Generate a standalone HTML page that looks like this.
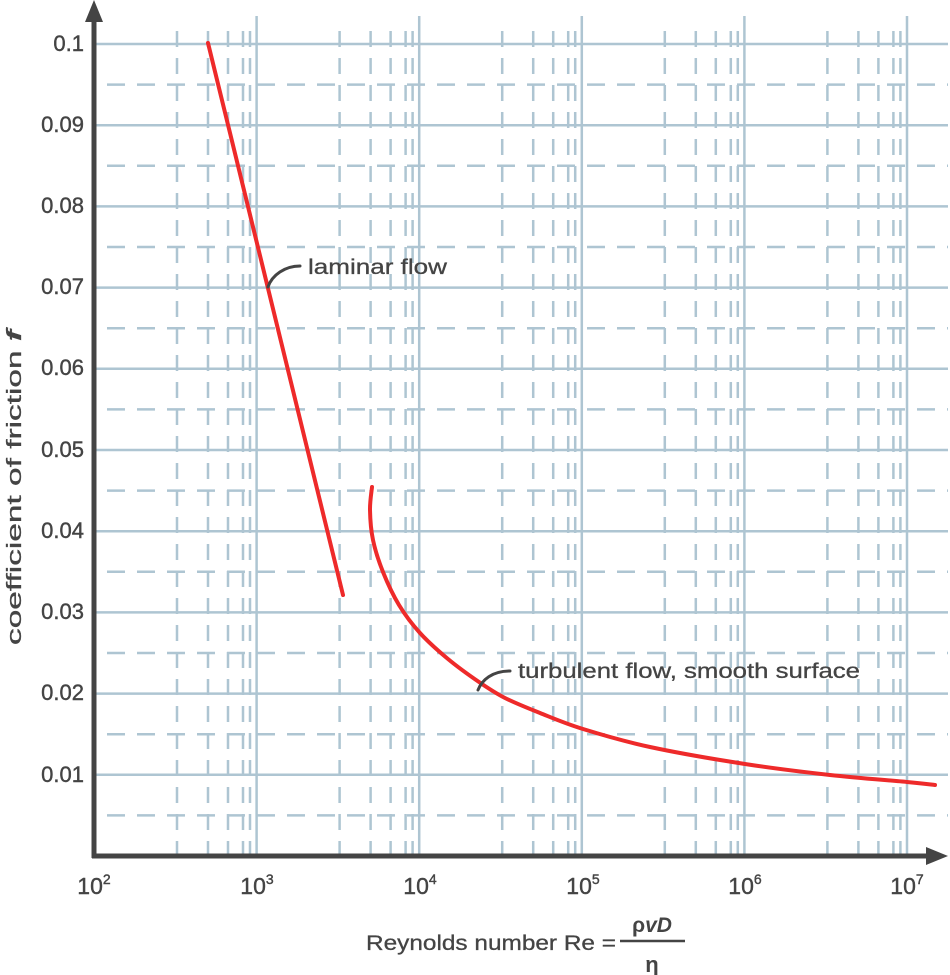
<!DOCTYPE html>
<html><head><meta charset="utf-8"><style>
html,body{margin:0;padding:0;background:#fff;}
svg{display:block;font-family:"Liberation Sans",sans-serif;}
</style></head><body>
<svg id="s" width="950" height="975" viewBox="0 0 950 975" xmlns="http://www.w3.org/2000/svg">
<g id="grid" stroke="#aec5d2" stroke-width="2.5" fill="none"></g>
<g fill="#444" font-size="22" text-anchor="end" stroke="#444" stroke-width="0.4">
<text x="84" y="51">0.1</text>
<text x="84" y="132">0.09</text>
<text x="84" y="213">0.08</text>
<text x="84" y="294">0.07</text>
<text x="84" y="375">0.06</text>
<text x="84" y="457">0.05</text>
<text x="84" y="538">0.04</text>
<text x="84" y="619">0.03</text>
<text x="84" y="700">0.02</text>
<text x="84" y="782">0.01</text>
</g>
<g fill="#444" font-size="23" text-anchor="middle" stroke="#444" stroke-width="0.4">
<text x="94" y="894">10<tspan font-size="14" dy="-10">2</tspan></text>
<text x="257" y="894">10<tspan font-size="14" dy="-10">3</tspan></text>
<text x="420" y="894">10<tspan font-size="14" dy="-10">4</tspan></text>
<text x="583" y="894">10<tspan font-size="14" dy="-10">5</tspan></text>
<text x="745" y="894">10<tspan font-size="14" dy="-10">6</tspan></text>
<text x="907" y="894">10<tspan font-size="14" dy="-10">7</tspan></text>
</g>
<text x="21" y="645" fill="#444" font-size="20" textLength="315" lengthAdjust="spacingAndGlyphs" transform="rotate(-90 21 645)" stroke="#444" stroke-width="0.3">coefficient of friction <tspan font-style="italic" font-weight="bold">f</tspan></text>
<text x="366" y="950" fill="#444" font-size="21" textLength="250" lengthAdjust="spacingAndGlyphs" stroke="#444" stroke-width="0.3">Reynolds number Re =</text>
<text x="652" y="932" fill="#444" font-size="21" font-weight="bold" text-anchor="middle">ρ<tspan font-style="italic">vD</tspan></text>
<line x1="620" y1="941" x2="685" y2="941" stroke="#444" stroke-width="2.5"/>
<text x="652" y="972" fill="#444" font-size="22" font-weight="bold" text-anchor="middle">η</text>
<!-- axes -->
<line x1="94" y1="18" x2="94" y2="858" stroke="#444" stroke-width="5"/>
<polygon points="94,0 85,22 103,22" fill="#444"/>
<line x1="92" y1="856" x2="930" y2="856" stroke="#444" stroke-width="5"/>
<polygon points="948,856 926,847 926,865" fill="#444"/>
<!-- curves -->
<polyline points="208,43 343,595" stroke="#ee2a2a" stroke-width="4" fill="none" stroke-linecap="round"/>
<path id="turb" d="" stroke="#ee2a2a" stroke-width="4" fill="none" stroke-linecap="round"/>
<path d="M268,287 C272,275 285,266 300,266" stroke="#444" stroke-width="3" fill="none" stroke-linecap="round"/>
<text x="308" y="274" fill="#444" font-size="21" textLength="139" lengthAdjust="spacingAndGlyphs" stroke="#444" stroke-width="0.3">laminar flow</text>
<path d="M478,690 C482,680 492,671 510,671" stroke="#444" stroke-width="3" fill="none" stroke-linecap="round"/>
<text x="518" y="678" fill="#444" font-size="21" textLength="342" lengthAdjust="spacingAndGlyphs" stroke="#444" stroke-width="0.3">turbulent flow, smooth surface</text>
</svg>
<script>
var g=document.getElementById('grid'),ns='http://www.w3.org/2000/svg';
function L(x1,y1,x2,y2,d){var l=document.createElementNS(ns,'line');l.setAttribute('x1',x1);l.setAttribute('y1',y1);l.setAttribute('x2',x2);l.setAttribute('y2',y2);if(d)l.setAttribute('stroke-dasharray',d);g.appendChild(l);}
var dec=162.6;
for(var i=0;i<10;i++){var y=856-(i+1)*81.2;L(96,y,948,y);}
for(var i=0;i<10;i++){var y=856-(i+0.5)*81.2;L(107,y,948,y,'18 12');}
for(var k=1;k<=5;k++){var x=94+k*dec;L(x,16,x,854);}
var off=[83,114,134,149,156];
for(var k=0;k<5;k++){for(var j=0;j<5;j++){var x=94+k*dec+off[j];if(x<948)L(x,31,x,854,'16 11');}}
var P=[[372,487],[370,510],[373,540],[383,572],[399,605],[420,633],[448,659],[479,682],[505,698],[540,713],[583,729],[650,747],[745,764],[830,775],[907,782],[935,785]];
var d='M'+P[0][0]+','+P[0][1];
for(var i=0;i<P.length-1;i++){var p0=P[Math.max(i-1,0)],p1=P[i],p2=P[i+1],p3=P[Math.min(i+2,P.length-1)];
d+=' C'+(p1[0]+(p2[0]-p0[0])/6)+','+(p1[1]+(p2[1]-p0[1])/6)+' '+(p2[0]-(p3[0]-p1[0])/6)+','+(p2[1]-(p3[1]-p1[1])/6)+' '+p2[0]+','+p2[1];}
document.getElementById('turb').setAttribute('d',d);
</script>
</body></html>
